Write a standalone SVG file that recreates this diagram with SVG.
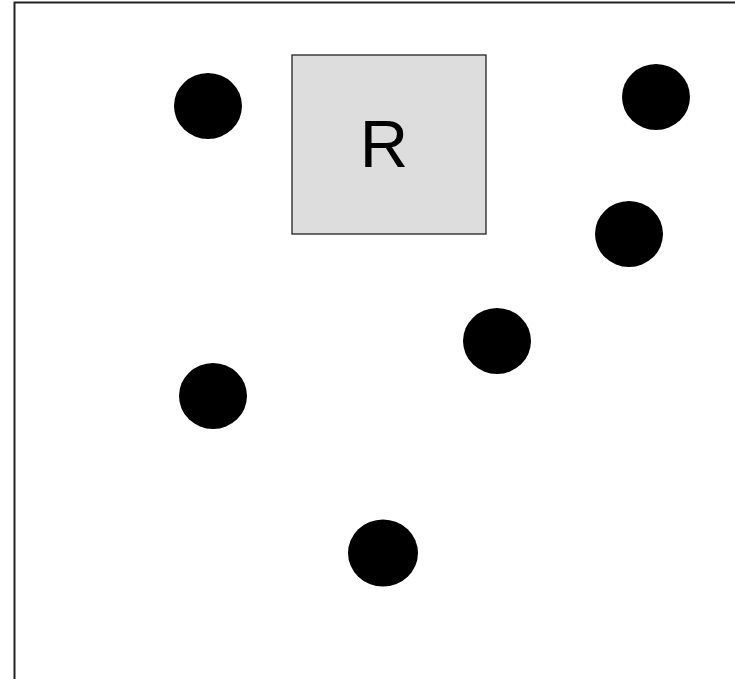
<svg xmlns="http://www.w3.org/2000/svg" width="735" height="679" viewBox="0 0 735 679">
<style>
.dot{fill:#000}
.lbl{font-family:"Liberation Sans",Arial,sans-serif;font-size:67px;fill:#000}
</style>
<rect x="0" y="0" width="735" height="679" fill="#fff"/>
<rect x="14.5" y="2.5" width="730" height="690" fill="#fff" stroke="#222" stroke-width="2"/>
<g id="nodeR">
<rect x="292" y="55" width="194" height="179" fill="#dddddd" stroke="#222" stroke-width="1.3"/>
<text class="lbl" x="384" y="167" text-anchor="middle">R</text>
</g>
<g id="n1"><ellipse class="dot" cx="208" cy="106" rx="34" ry="33"/></g>
<g id="n2"><ellipse class="dot" cx="656" cy="97" rx="34" ry="33"/></g>
<g id="n3"><ellipse class="dot" cx="629" cy="234" rx="34" ry="33"/></g>
<g id="n4"><ellipse class="dot" cx="497" cy="341" rx="34" ry="33"/></g>
<g id="n5"><ellipse class="dot" cx="213" cy="396" rx="34" ry="33"/></g>
<g id="n6"><ellipse class="dot" cx="383" cy="553" rx="35" ry="33.5"/></g>
<g id="connectors"></g>
</svg>
